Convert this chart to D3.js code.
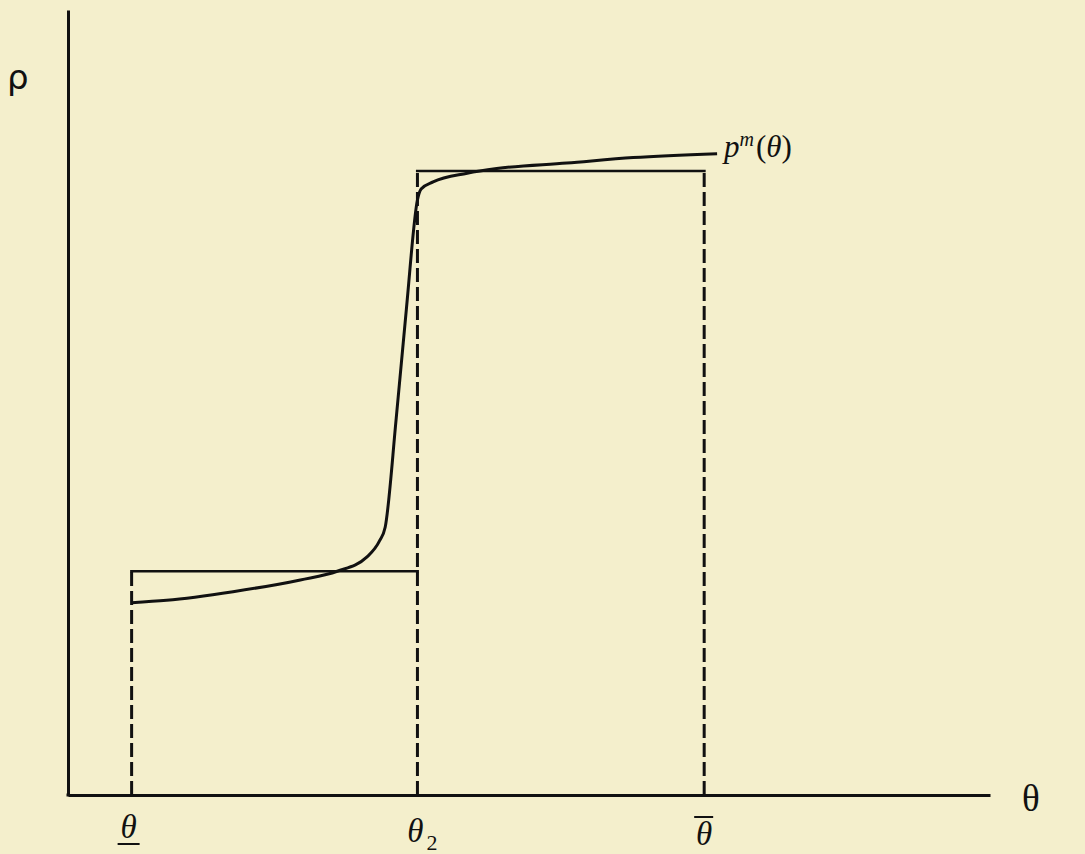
<!DOCTYPE html>
<html>
<head>
<meta charset="utf-8">
<script src="https://cdn.jsdelivr.net/npm/d3@7"></script>
<style>
  html, body { margin: 0; padding: 0; background: #f4efcc; }
  svg { display: block; }
  .math { font-family: 'Liberation Serif', 'DejaVu Serif', serif; fill: #111; }
</style>
</head>
<body>
<div id="chart"></div>
<script>
'use strict';

// positions along theta (0..100) and rho (0..100)
const thetaTicks = [6.9, 37.9, 69.0];        // θ (lower), θ2, θ (upper)
const tickNames = ['lower', 'theta2', 'upper'];
const stepLevels = [28.5, 79.5];             // low / high price on each interval
const curveTheta = [6.9, 10.7, 17.9, 25.2, 29.2, 32.4, 33.8, 34.4, 35.6, 36.7, 37.9, 38.3, 39.6, 43.3, 46.5, 54.1, 61.3, 70.4];
const curveRho   = [24.5, 24.8, 25.9, 27.4, 28.5, 30.3, 32.4, 34.1, 48.0, 61.9, 75.8, 77.2, 78.1, 79.2, 79.8, 80.5, 81.2, 81.7];

const W = 1085, H = 854;
const $svg = d3.select('#chart').append('svg')
  .attr('width', W).attr('height', H);

$svg.append('rect').attr('width', W).attr('height', H).attr('fill', '#f4efcc');

const x = d3.scaleLinear().domain([0, 100]).range([68, 990]);
const y = d3.scaleLinear().domain([0, 100]).range([795, 10]);

// axes: plain lines, no ticks
const $xAxis = $svg.append('g').attr('transform', 'translate(0,' + y(0) + ')')
  .call(d3.axisBottom(x).tickValues([]).tickSizeOuter(0));
const $yAxis = $svg.append('g').attr('transform', 'translate(' + x(0) + ',0)')
  .call(d3.axisLeft(y).tickValues([]).tickSizeOuter(0));
[$xAxis, $yAxis].forEach(($a) => {
  $a.select('.domain').attr('stroke', '#111').attr('stroke-width', 3);
});
// close the corner
$svg.append('line')
  .attr('x1', x(0) - 1.5).attr('x2', x(0) + 1.5)
  .attr('y1', y(0)).attr('y2', y(0))
  .attr('stroke', '#111').attr('stroke-width', 3);

// dashed verticals from the axis up to the step
const dashTops = [stepLevels[0], stepLevels[1], stepLevels[1]];
$svg.append('g').selectAll('line')
  .data(thetaTicks)
  .enter()
  .append('line')
  .attr('x1', (d) => x(d)).attr('x2', (d) => x(d))
  .attr('y1', y(0)).attr('y2', (d, i) => y(dashTops[i]))
  .attr('stroke', '#111')
  .attr('stroke-width', 3)
  .attr('stroke-dasharray', '14,5');

// step function (horizontal pieces)
const steps = [
  { x0: thetaTicks[0], x1: thetaTicks[1], v: stepLevels[0] },
  { x0: thetaTicks[1], x1: thetaTicks[2], v: stepLevels[1] }
];
$svg.append('g').selectAll('line')
  .data(steps)
  .enter()
  .append('line')
  .attr('x1', (d) => x(d.x0) - 1.5).attr('x2', (d) => x(d.x1) + 1.5)
  .attr('y1', (d) => y(d.v)).attr('y2', (d) => y(d.v))
  .attr('stroke', '#111')
  .attr('stroke-width', 2.6);

// p^m(theta) curve
const curve = curveTheta.map((t, i) => [t, curveRho[i]]);
$svg.append('path')
  .datum(curve)
  .attr('fill', 'none')
  .attr('stroke', '#111')
  .attr('stroke-width', 3)
  .attr('stroke-linejoin', 'round')
  .attr('d', d3.line()
    .x((d) => x(d[0]))
    .y((d) => y(d[1]))
    .curve(d3.curveMonotoneX));

// curve label
const last = curve[curve.length - 1];
const $pl = $svg.append('text').attr('class', 'math')
  .attr('x', x(last[0]) + 7).attr('y', y(last[1]) + 3)
  .attr('font-size', 31);
$pl.append('tspan').attr('font-style', 'italic').text('p');
$pl.append('tspan').attr('font-style', 'italic').attr('font-size', 20).attr('dy', -11).text('m');
$pl.append('tspan').attr('dy', 11).attr('dx', 2).text('(');
$pl.append('tspan').attr('font-style', 'italic').text('θ');
$pl.append('tspan').text(')');

// axis titles
$svg.append('text')
  .attr('x', 7).attr('y', 89)
  .attr('font-family', "'DejaVu Sans', sans-serif")
  .attr('font-size', 34)
  .attr('fill', '#111')
  .text('ρ');
$svg.append('text').attr('class', 'math')
  .attr('x', 1022).attr('y', 811)
  .attr('font-size', 37)
  .text('θ');

// theta tick labels
const labelBase = [838, 842, 845];
const $ticks = $svg.append('g').selectAll('g')
  .data(thetaTicks)
  .enter()
  .append('g')
  .attr('transform', (d, i) => 'translate(' + x(d) + ',' + labelBase[i] + ')');

$ticks.append('text').attr('class', 'math')
  .attr('font-size', 33)
  .attr('font-style', 'italic')
  .attr('text-anchor', 'middle')
  .attr('x', (d, i) => [-3, -2, 0][i])
  .text('θ');

$ticks.filter((d, i) => tickNames[i] === 'theta2')
  .append('text').attr('class', 'math')
  .attr('x', 9).attr('y', 8)
  .attr('font-size', 22)
  .text('2');

$ticks.filter((d, i) => tickNames[i] === 'lower')
  .append('line')
  .attr('x1', -14).attr('x2', 8).attr('y1', 6).attr('y2', 6)
  .attr('stroke', '#111').attr('stroke-width', 2);

$ticks.filter((d, i) => tickNames[i] === 'upper')
  .append('line')
  .attr('x1', -10).attr('x2', 9).attr('y1', -28).attr('y2', -28)
  .attr('stroke', '#111').attr('stroke-width', 2);
</script>
</body>
</html>
